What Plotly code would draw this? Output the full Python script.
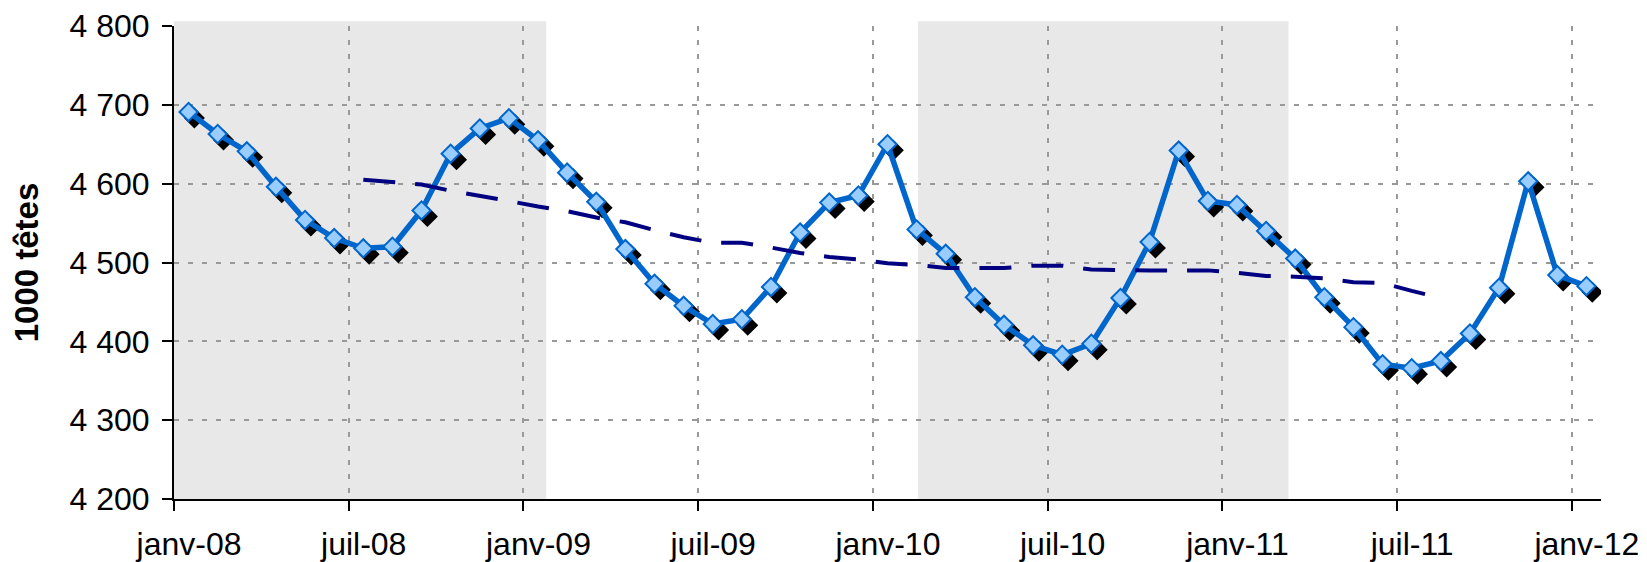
import plotly.graph_objects as go

# ---- data ----
months = [
    "janv-08", "févr-08", "mars-08", "avr-08", "mai-08", "juin-08", "juil-08", "août-08", "sept-08", "oct-08", "nov-08", "déc-08",
    "janv-09", "févr-09", "mars-09", "avr-09", "mai-09", "juin-09", "juil-09", "août-09", "sept-09", "oct-09", "nov-09", "déc-09",
    "janv-10", "févr-10", "mars-10", "avr-10", "mai-10", "juin-10", "juil-10", "août-10", "sept-10", "oct-10", "nov-10", "déc-10",
    "janv-11", "févr-11", "mars-11", "avr-11", "mai-11", "juin-11", "juil-11", "août-11", "sept-11", "oct-11", "nov-11", "déc-11",
    "janv-12",
]
cheptel = [
    4691, 4663, 4641, 4596, 4554, 4531, 4518, 4520, 4566, 4638, 4670, 4683,
    4655, 4614, 4577, 4517, 4473, 4445, 4422, 4428, 4469, 4538, 4576, 4585,
    4650, 4542, 4511, 4456, 4421, 4395, 4383, 4397, 4455, 4526, 4642, 4578,
    4573, 4540, 4505, 4456, 4418, 4371, 4366, 4375, 4410, 4468, 4603, 4484,
    4470,
]
trend_start = "juil-08"
trend = [
    4605, 4602, 4599, 4591, 4585, 4578,
    4571, 4565, 4557, 4551, 4541, 4532, 4525, 4525, 4519, 4512, 4507, 4504,
    4499, 4497, 4493, 4493, 4493, 4496, 4496, 4491, 4490, 4490, 4490, 4490,
    4487, 4483, 4482, 4480, 4475, 4474, 4464, 4455,
]
tick_labels = ["janv-08", "juil-08", "janv-09", "juil-09", "janv-10", "juil-10", "janv-11", "juil-11", "janv-12"]
# shaded periods (in month-index units)
bands = [(-0.5, 12.28), (25.05, 37.77)]
y_min, y_max, y_step = 4200, 4800, 100

# ---- positions derived from categories ----
idx = {m: i for i, m in enumerate(months)}
x_main = [idx[m] for m in months]
t0 = idx[trend_start]
x_trend = [t0 + k for k in range(len(trend))]
tick_pos = [idx[t] - 0.5 for t in tick_labels]

SHADOW_DX = 0.2    # ~6 px
SHADOW_DY = -7.6   # ~6 px
x_shadow = [v + SHADOW_DX for v in x_main]
y_shadow = [v + SHADOW_DY for v in cheptel]

FONT = "Liberation Sans, Arial, sans-serif"

fig = go.Figure()

fig.add_trace(go.Scatter(
    x=x_shadow, y=y_shadow, mode="markers",
    marker=dict(symbol="diamond", size=14, color="black", line=dict(color="black", width=2)),
    hoverinfo="skip", showlegend=False,
))
fig.add_trace(go.Scatter(
    x=x_main, y=cheptel, mode="lines+markers",
    line=dict(color="#0066CC", width=5.5),
    marker=dict(symbol="diamond", size=14, color="#99CCFF", line=dict(color="#0066CC", width=2)),
    showlegend=False, text=months,
))
fig.add_trace(go.Scatter(
    x=x_trend, y=trend, mode="lines",
    line=dict(color="#000080", width=4, dash="32px,20px"),
    showlegend=False,
))

for b0, b1 in bands:
    fig.add_shape(type="rect", xref="x", yref="paper", x0=b0, x1=b1, y0=0, y1=1.01,
                  fillcolor="#E8E8E8", line=dict(width=0), layer="below")

# page body has an 8px default margin: figure is sized to fit the window
fig.update_layout(
    width=1639, height=554,
    margin=dict(l=166, r=46, t=18, b=63, autoexpand=False),
    paper_bgcolor="white", plot_bgcolor="white",
    separators=", ",
    font=dict(family=FONT, size=32, color="black"),
)
fig.update_xaxes(
    automargin=False,
    range=[-0.5, len(months) - 0.5],
    tickmode="array", tickvals=tick_pos, ticktext=tick_labels,
    ticklabelshift=15, ticklabelstandoff=6,
    ticks="outside", ticklen=10, tickwidth=2, tickcolor="black",
    showline=True, linecolor="black", linewidth=2,
    showgrid=True, gridcolor="#999999", gridwidth=2, griddash="5px,9px",
    zeroline=False,
    tickfont=dict(family=FONT, size=32),
)
fig.update_yaxes(
    automargin=False,
    range=[y_min, y_max], dtick=y_step, tick0=y_min, tickformat=",d",
    ticks="outside", ticklen=10, tickwidth=2, tickcolor="black",
    showline=True, linecolor="black", linewidth=2,
    showgrid=True, gridcolor="#999999", gridwidth=2, griddash="5px,9px",
    zeroline=False,
    ticklabelstandoff=6,
    tickfont=dict(family=FONT, size=32),
    title=dict(text="<b>1000 têtes</b>", font=dict(family=FONT, size=33), standoff=22),
)

fig.write_html("out.html")
